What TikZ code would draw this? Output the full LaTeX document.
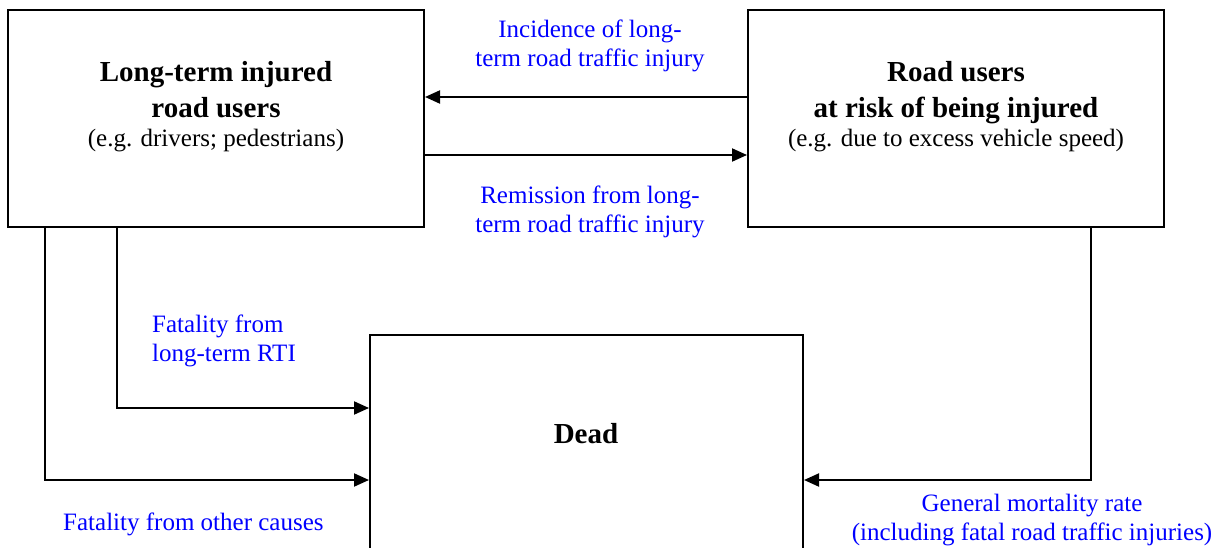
\documentclass[tikz,border=0pt]{standalone}
\usepackage{fontspec}
\setmainfont{Liberation Serif}
\usetikzlibrary{arrows.meta}
\definecolor{lblue}{RGB}{0,0,255}
\tikzset{
  box/.style={draw=black, line width=2pt, rectangle, inner sep=0pt, fill=white},
  arr/.style={line width=2pt, -{Triangle[length=15pt,width=13pt]}},
  title/.style={font=\fontsize{29}{36}\selectfont\bfseries, align=center, inner sep=0pt},
  sub/.style={font=\fontsize{25}{30}\selectfont, align=center, inner sep=0pt},
  lbl/.style={font=\fontsize{25}{29}\selectfont, text=lblue, inner sep=0pt}
}
\begin{document}
\begin{tikzpicture}[x=1pt,y=-1pt]
\useasboundingbox (0,0) rectangle (1223,548);
\clip (0,0) rectangle (1223,548);
% boxes
\node[box, minimum width=416pt, minimum height=217pt] (L) at (216,118.5) {};
\node[box, minimum width=416pt, minimum height=217pt] (R) at (956,118.5) {};
\node[box, minimum width=433pt, minimum height=265pt] (D) at (586.5,467.5) {};
% box texts
\node[title, anchor=base] (Lt) at (216,118) {Long-term injured\\road users};
\node[sub, anchor=base] (Ls) at (216,147) {(e.g. drivers; pedestrians)};
\node[title, anchor=base] (Rt) at (956,118) {Road users\\at risk of being injured};
\node[sub, anchor=base] (Rs) at (956,147) {(e.g. due to excess vehicle speed)};
\node[title, anchor=base] (Dt) at (586,443) {Dead};
% named turning points
\coordinate (c1) at (117,408);
\coordinate (c2) at (45,480);
\coordinate (c3) at (1091,480);
% connectors
\draw[arr] (R.west |- 0,97) -- (L.east |- 0,97);
\draw[arr] (L.east |- 0,155) -- (R.west |- 0,155);
\draw[arr] (L.south -| c1) -- (c1) -- (D.west |- c1);
\draw[arr] (L.south -| c2) -- (c2) -- (D.west |- c2);
\draw[arr] (R.south -| c3) -- (c3) -- (D.east |- c3);
% labels
\node[lbl, align=center, anchor=base] (l1) at (590,67) {Incidence of long-\\term road traffic injury};
\node[lbl, align=center, anchor=base] (l2) at (590,233) {Remission from long-\\term road traffic injury};
\node[lbl, align=left, anchor=base west] (l3) at (152,361) {Fatality from\\long-term RTI};
\node[lbl, anchor=base west] (l4) at (63,530) {Fatality from other causes};
\node[lbl, align=center, anchor=base] (l5) at (1032,540) {General mortality rate\\(including fatal road traffic injuries)};
\end{tikzpicture}
\end{document}
